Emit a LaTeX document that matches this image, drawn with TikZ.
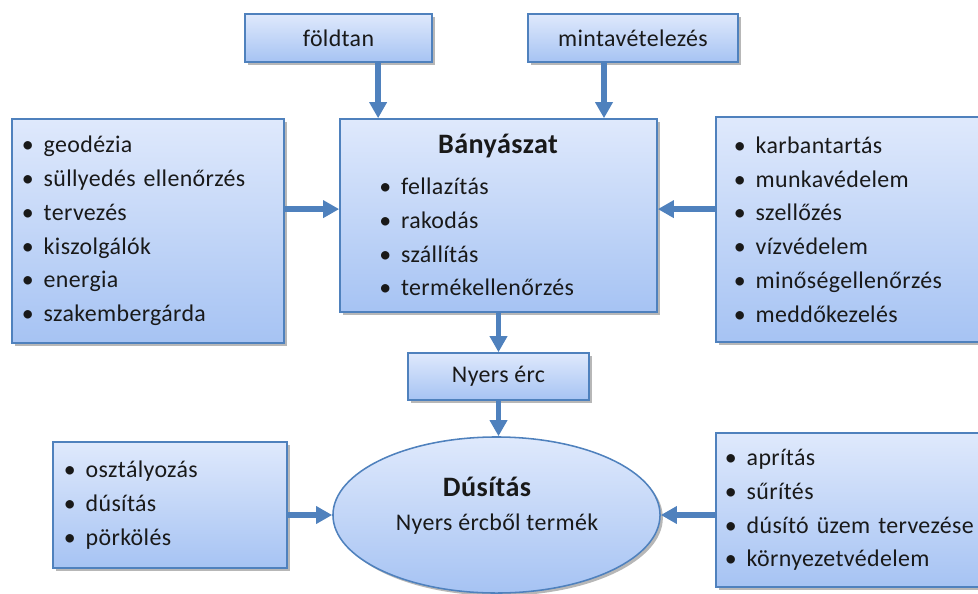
\documentclass[tikz,border=0pt]{standalone}
\usepackage{fontspec}
\setmainfont{Carlito}[LetterSpace=1.5]
\usetikzlibrary{arrows.meta,shapes.geometric,shadows}

\definecolor{keret}{HTML}{4F81BD}
\definecolor{felso}{HTML}{DFE9FC}
\definecolor{also}{HTML}{A6C3F3}
\definecolor{nyilszin}{HTML}{4F81BD}

\newcommand{\pont}[1]{\textbullet\hspace{7pt}#1}

\begin{document}
\begin{tikzpicture}[
  x=0.025cm, y=-0.025cm,
  line cap=butt,
  doboz/.style={draw=keret, line width=1.1pt, top color=felso, bottom color=also,
    drop shadow={shadow xshift=2pt, shadow yshift=-2pt, opacity=0.4, fill=black!70},
    font=\fontsize{17}{24}\selectfont, text=black!90, inner sep=0pt},
  lista/.style={doboz, align=left},
  cim/.style={font=\fontsize{20}{24}\selectfont\bfseries, text=black!90, inner sep=0pt},
  szoveg/.style={font=\fontsize{17}{24}\selectfont, text=black!90, inner sep=0pt, align=left},
  nyil/.style={draw=nyilszin, line width=4pt, -{Triangle[length=0.4cm,width=0.42cm]}}
]
  \useasboundingbox (0,0) rectangle (978,593);

  % Felső dobozok
  \node[doboz, minimum width=4.675cm, minimum height=1.2cm] (foldtan) at (338.5,38) {földtan};
  \node[doboz, minimum width=5.25cm, minimum height=1.2cm] (minta) at (633,38) {mintavételezés};

  % Bányászat
  \node[doboz, minimum width=7.925cm, minimum height=4.825cm] (banyaszat) at (498.5,215.5) {};
  \node[cim] (banyaszatcim) at (498,146) {Bányászat};
  \node[szoveg, anchor=west] (banyaszatlista) at (379,237)
    {\pont{fellazítás}\\ \pont{rakodás}\\ \pont{szállítás}\\ \pont{termékellenőrzés}};

  % Oldalsó listák
  \node[lista, minimum width=6.8cm, minimum height=5.6cm, text width=6.3cm, inner xsep=0.25cm]
    (bal) at (148,231)
    {\pont{geodézia}\\ \pont{süllyedés ellenőrzés}\\ \pont{tervezés}\\
     \pont{kiszolgálók}\\ \pont{energia}\\ \pont{szakembergárda}};
  \node[lista, minimum width=7cm, minimum height=5.625cm, text width=6.1cm, inner xsep=0.45cm]
    (jobb) at (856,229.5)
    {\pont{karbantartás}\\ \pont{munkavédelem}\\ \pont{szellőzés}\\
     \pont{vízvédelem}\\ \pont{minőségellenőrzés}\\ \pont{meddőkezelés}};

  % Nyers érc
  \node[doboz, minimum width=4.525cm, minimum height=1.175cm] (nyers) at (498.5,376.5) {Nyers érc};

  % Dúsítás
  \node[doboz, ellipse, minimum width=8.175cm, minimum height=3.9cm] (dusitas) at (496.5,515) {};
  \node[cim] (dusitascim) at (487,487) {Dúsítás};
  \node[szoveg] (dusitasszoveg) at (497,524) {Nyers ércből termék};

  % Alsó listák
  \node[lista, minimum width=5.85cm, minimum height=3.15cm, text width=5.3cm, inner xsep=0.275cm]
    (alsobal) at (170,505)
    {\pont{osztályozás}\\ \pont{dúsítás}\\ \pont{pörkölés}};
  \node[lista, minimum width=6.85cm, minimum height=3.85cm, text width=6.4cm, inner xsep=0.225cm]
    (alsojobb) at (853,510)
    {\pont{aprítás}\\ \pont{sűrítés}\\ \pont{dúsító üzem tervezése}\\ \pont{környezetvédelem}};

  % Nyilak
  \draw[nyil] ([xshift=0.99cm]foldtan.south) -- ([xshift=0.99cm]foldtan.south |- banyaszat.north);
  \draw[nyil] ([xshift=-0.725cm]minta.south) -- ([xshift=-0.725cm]minta.south |- banyaszat.north);
  \draw[nyil] ([yshift=0.16cm]banyaszat.west -| bal.east) -- ([yshift=0.16cm]banyaszat.west);
  \draw[nyil] ([yshift=0.16cm]banyaszat.east -| jobb.west) -- ([yshift=0.16cm]banyaszat.east);
  \draw[nyil] (banyaszat.south) -- (nyers.north);
  \draw[nyil] (nyers.south) -- (nyers.south |- dusitas.north);
  \draw[nyil] (alsobal.east |- dusitas.west) -- (dusitas.west);
  \draw[nyil] (alsojobb.west |- dusitas.east) -- (dusitas.east);
\end{tikzpicture}
\end{document}
